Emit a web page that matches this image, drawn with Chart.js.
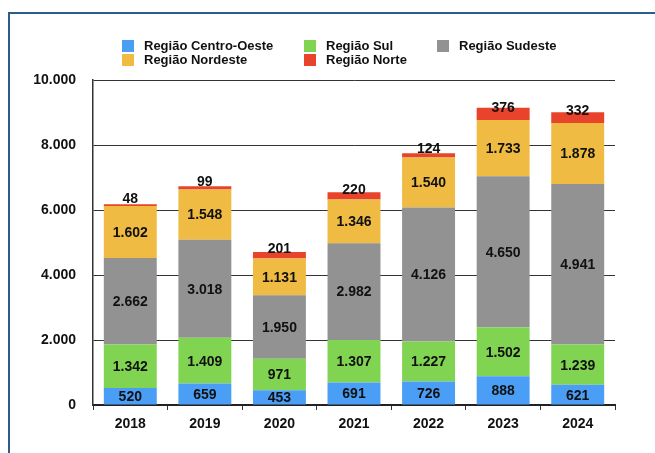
<!DOCTYPE html>
<html>
<head>
<meta charset="utf-8">
<script src="https://cdn.jsdelivr.net/npm/chart.js@4"></script>
<style>
    body { margin: 0; background: #fff; }
    #wrap { position: relative; width: 655px; height: 453px; }
    #frame {
        position: absolute; left: 8px; top: 12px; right: 0; bottom: 0;
        border-left: 2px solid #2c5d8f; border-top: 2px solid #2c5d8f;
        pointer-events: none;
    }
</style>
</head>
<body>
<div id="wrap">
    <canvas id="myChart" width="655" height="453"></canvas>
    <div id="frame"></div>
</div>
<script>
// values
const years = ['2018', '2019', '2020', '2021', '2022', '2023', '2024'];
const centroOeste = [520, 659, 453, 691, 726, 888, 621];
const sul = [1342, 1409, 971, 1307, 1227, 1502, 1239];
const sudeste = [2662, 3018, 1950, 2982, 4126, 4650, 4941];
const nordeste = [1602, 1548, 1131, 1346, 1540, 1733, 1878];
const norte = [48, 99, 201, 220, 124, 376, 332];
const yTicks = [0, 2000, 4000, 6000, 8000, 10000];

const FONT = "'Liberation Sans', Arial, Helvetica, sans-serif";

function fmt(v) {
    return String(v).replace(/\B(?=(\d{3})+(?!\d))/g, '.');
}

// labels inside each segment
const segmentLabels = {
    id: 'segmentLabels',
    afterDatasetsDraw(chart) {
        const ctx = chart.ctx;
        const last = chart.data.datasets.length - 1;
        ctx.save();
        ctx.font = 'bold 14px ' + FONT;
        ctx.fillStyle = '#111';
        ctx.textAlign = 'center';
        ctx.textBaseline = 'middle';
        chart.data.datasets.forEach((ds, i) => {
            const meta = chart.getDatasetMeta(i);
            meta.data.forEach((bar, j) => {
                let y = (bar.y + bar.base) / 2;
                if (i === last) y -= 7; // top segment label sits a bit higher
                ctx.fillText(fmt(ds.data[j]), bar.x, y + 1);
            });
        });
        ctx.restore();
    }
};

// legend laid out as a 3-column grid
const gridLegend = {
    id: 'gridLegend',
    afterDraw(chart) {
        const ctx = chart.ctx;
        const cols = [122, 304, 437];
        const rows = [40, 54];
        ctx.save();
        ctx.font = 'bold 13px ' + FONT;
        ctx.textBaseline = 'middle';
        ctx.textAlign = 'left';
        chart.data.datasets.forEach((ds, i) => {
            const x = cols[i % 3];
            const y = rows[Math.floor(i / 3)];
            ctx.fillStyle = ds.backgroundColor;
            ctx.fillRect(x, y, 12, 12);
            ctx.fillStyle = '#111';
            ctx.fillText(ds.label, x + 22, y + 6.5);
        });
        ctx.restore();
    }
};

const ctx = document.getElementById('myChart').getContext('2d');
window.myChart = new Chart(ctx, {
    type: 'bar',
    data: {
        labels: years,
        datasets: [
            { label: 'Região Centro-Oeste', data: centroOeste, backgroundColor: '#4a9ef5' },
            { label: 'Região Sul', data: sul, backgroundColor: '#80d452' },
            { label: 'Região Sudeste', data: sudeste, backgroundColor: '#929292' },
            { label: 'Região Nordeste', data: nordeste, backgroundColor: '#efbb42' },
            { label: 'Região Norte', data: norte, backgroundColor: '#e8432b' }
        ]
    },
    options: {
        responsive: false,
        animation: false,
        devicePixelRatio: 1,
        layout: { padding: { top: 80, right: 40, left: 0, bottom: 0 } },
        datasets: {
            bar: { categoryPercentage: 1, barPercentage: 0.71, borderWidth: 0 }
        },
        plugins: {
            legend: { display: false },
            tooltip: { enabled: false }
        },
        scales: {
            x: {
                stacked: true,
                grid: { drawOnChartArea: false, tickLength: 5, color: '#333', offset: true },
                border: { display: true, color: '#222', width: 2 },
                ticks: { color: '#111', font: { family: FONT, size: 14, weight: 'bold' }, padding: 6 },
                afterFit(scale) { scale.height = 48; }
            },
            y: {
                stacked: true,
                min: 0,
                max: 10000,
                afterBuildTicks(scale) { scale.ticks = yTicks.map(v => ({ value: v })); },
                grid: { color: '#333', lineWidth: 1, drawTicks: false },
                border: { display: true, color: '#333', width: 1.5 },
                ticks: {
                    color: '#111',
                    padding: 17,
                    font: { family: FONT, size: 14, weight: 'bold' },
                    callback: v => fmt(v)
                },
                afterFit(scale) { scale.width = 93; }
            }
        }
    },
    plugins: [segmentLabels, gridLegend]
});
</script>
</body>
</html>
